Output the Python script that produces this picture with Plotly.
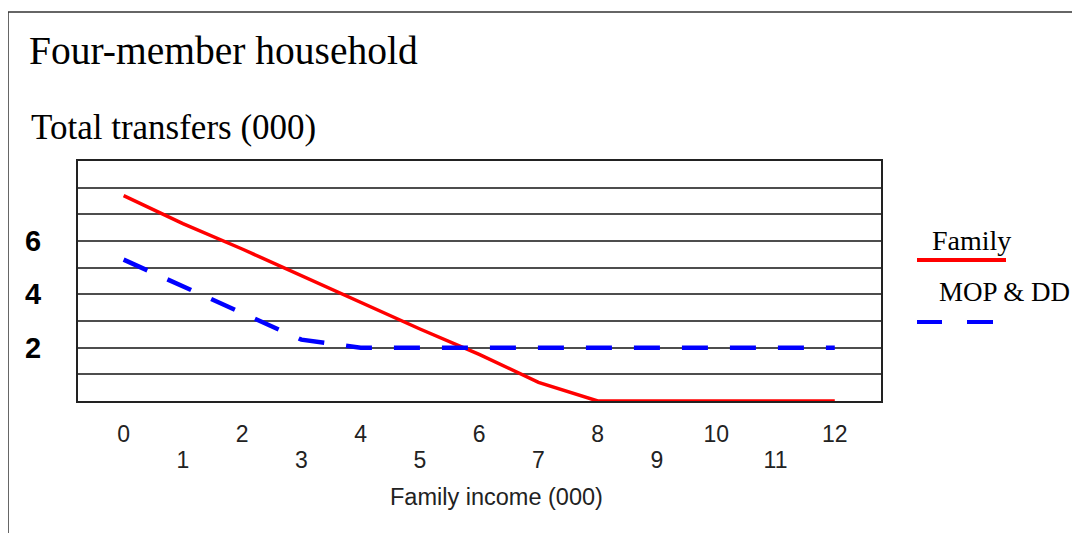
import plotly.graph_objects as go

# ---- data ----
income = [0, 1, 2, 3, 4, 5, 6, 7, 8, 9, 10, 11, 12]
family = [7.7, 6.65, 5.7, 4.7, 3.7, 2.7, 1.75, 0.7, 0, 0, 0, 0, 0]
mop_dd = [5.3, 4.3, 3.3, 2.3, 2.0, 2, 2, 2, 2, 2, 2, 2, 2]
x_even_ticks = [0, 2, 4, 6, 8, 10, 12]
x_odd_ticks = [1, 3, 5, 7, 9, 11]
y_ticks = [2, 4, 6]
y_tick_labels = ["2", "4", "6"]

SERIF = "Liberation Serif, Times New Roman, serif"
SANS = "Liberation Sans, Arial, sans-serif"
GRID = "#4d4d4d"

fig = go.Figure()
fig.add_trace(go.Scatter(x=income, y=family, mode="lines", name="Family",
                         line=dict(color="#ff0000", width=3.5), showlegend=False))
fig.add_trace(go.Scatter(x=income, y=mop_dd, mode="lines", name="MOP & DD",
                         line=dict(color="#0000ff", width=4.5, dash="26px,22px"),
                         showlegend=False))
# invisible trace to host the odd-tick axis
fig.add_trace(go.Scatter(x=[income[0]], y=[0], xaxis="x2", mode="markers",
                         marker=dict(opacity=0), showlegend=False, hoverinfo="skip"))

xr = [-0.77, 12.78]
fig.update_layout(
    width=1072, height=525,
    margin=dict(l=70, r=199, t=153, b=132),
    paper_bgcolor="white", plot_bgcolor="white",
    xaxis=dict(range=xr, tickvals=x_even_ticks, ticktext=[str(v) for v in x_even_ticks],
               showgrid=False, zeroline=False, showline=True, mirror=True,
               linecolor="#222", linewidth=2, ticks="",
               tickfont=dict(family=SANS, size=23, color="#222"), ticklabelstandoff=11),
    xaxis2=dict(range=xr, overlaying="x", side="bottom", anchor="y",
                tickvals=x_odd_ticks, ticktext=[str(v) for v in x_odd_ticks],
                showgrid=False, zeroline=False, showline=False, ticks="",
                tickfont=dict(family=SANS, size=23, color="#222"), ticklabelstandoff=43),
    yaxis=dict(range=[0, 9], tickvals=y_ticks, ticktext=y_tick_labels,
               showgrid=True, gridcolor=GRID, gridwidth=1.5, zeroline=False,
               showline=True, mirror=True, linecolor="#222", linewidth=2, ticks="",
               tickfont=dict(family=SANS, size=29, color="black", weight="bold"),
               ticklabelstandoff=29,
               minor=dict(tick0=0, dtick=1, showgrid=True, gridcolor=GRID, gridwidth=1.5)),
)

def px_x(p):
    return (p - 78) / 803.0

def px_y(p):
    return (401 - p) / 240.0

annotations = [
    dict(text="Four-member household", x=px_x(27), y=px_y(51), xanchor="left", yanchor="middle",
         font=dict(family=SERIF, size=39.5, color="black")),
    dict(text="Total transfers (000)", x=px_x(29), y=px_y(127), xanchor="left", yanchor="middle",
         font=dict(family=SERIF, size=35, color="black")),
    dict(text="Family income (000)", x=px_x(496), y=px_y(497), xanchor="center", yanchor="middle",
         font=dict(family=SANS, size=23.5, color="#222")),
    dict(text="Family", x=px_x(930), y=px_y(240), xanchor="left", yanchor="middle",
         font=dict(family=SERIF, size=28, color="black")),
    dict(text="MOP &amp; DD", x=px_x(937), y=px_y(292), xanchor="left", yanchor="middle",
         font=dict(family=SERIF, size=27, color="black")),
]
for a in annotations:
    a.update(xref="paper", yref="paper", showarrow=False)
fig.update_layout(annotations=annotations)

shapes = [
    # outer frame (top and left edges)
    dict(type="line", x0=px_x(8), x1=px_x(1200), y0=px_y(12), y1=px_y(12),
         line=dict(color="#333", width=1.5)),
    dict(type="line", x0=px_x(8), x1=px_x(8), y0=px_y(12), y1=px_y(600),
         line=dict(color="#333", width=1.5)),
    # legend swatches
    dict(type="line", x0=px_x(917), x1=px_x(1006), y0=px_y(260), y1=px_y(260),
         line=dict(color="#ff0000", width=4)),
    dict(type="line", x0=px_x(917), x1=px_x(942), y0=px_y(322), y1=px_y(322),
         line=dict(color="#0000ff", width=4)),
    dict(type="line", x0=px_x(967), x1=px_x(993), y0=px_y(322), y1=px_y(322),
         line=dict(color="#0000ff", width=4)),
]
for s in shapes:
    s.update(xref="paper", yref="paper")
fig.update_layout(shapes=shapes)

fig.write_html("out.html")
